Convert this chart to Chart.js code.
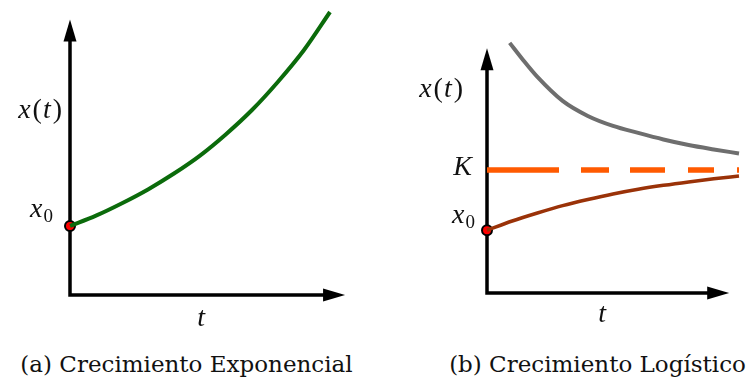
<!DOCTYPE html>
<html>
<head>
<meta charset="utf-8">
<script src="https://cdn.jsdelivr.net/npm/chart.js@4/dist/chart.umd.min.js"></script>
<style>
    body { margin: 0; background: #fff; }
    #wrap { position: relative; width: 746px; height: 380px; overflow: hidden; }
    canvas { position: absolute; top: 0; }
    .caption {
        position: absolute;
        top: 350px;
        width: 373px;
        text-align: center;
        font-family: "DejaVu Serif", serif;
        font-size: 23px;
        line-height: 28px;
        color: #111;
        white-space: nowrap;
    }
</style>
</head>
<body>
<div id="wrap">
    <canvas id="expChart" width="373" height="340" style="left:0"></canvas>
    <canvas id="logChart" width="373" height="340" style="left:373px"></canvas>
    <div class="caption" style="left:0">(a) Crecimiento Exponencial</div>
    <div class="caption" style="left:411px">(b) Crecimiento Logístico</div>
</div>

<script>
// exponential panel (x in units of x0)
const tExp = [0, 1, 2, 3, 4, 5, 6, 7, 8, 9, 10];
const xExp = [1.00, 1.15, 1.33, 1.53, 1.76, 2.02, 2.33, 2.68, 3.09, 3.55, 4.10];
const x0Exp = 1.00;

// logistic panel (x in units of K)
const tLog = [0, 1, 2, 3, 4, 5, 6, 7, 8, 9, 10];
const xLogBelow = [0.51, 0.585, 0.65, 0.71, 0.76, 0.805, 0.843, 0.875, 0.903, 0.928, 0.95];
const tLogAbove = [0.9, 1.4, 2, 3, 4, 5, 6, 7, 8, 9, 10];
const xLogAbove = [2.033, 1.902, 1.756, 1.561, 1.439, 1.358, 1.301, 1.248, 1.203, 1.167, 1.134];
const capacityK = 1;
const x0Log = 0.51;
const kLineT = [0, 10];

const SERIF = '"Liberation Serif", "DejaVu Serif", serif';

function toPoints(xs, ys) {
    return xs.map((v, i) => ({ x: v, y: ys[i] }));
}

// draws pieces of math text, right aligned at xRight
function drawMath(ctx, parts, xRight, baseline) {
    let total = 0;
    parts.forEach(p => { ctx.font = p.font; total += ctx.measureText(p.text).width + (p.gap || 0); });
    let cx = xRight - total;
    parts.forEach(p => {
        ctx.font = p.font;
        ctx.fillText(p.text, cx, baseline + (p.dy || 0));
        cx += ctx.measureText(p.text).width + (p.gap || 0);
    });
}

const ITAL = "italic 28px " + SERIF;
const UP = "28px " + SERIF;
const SUB = "19px " + SERIF;

function axesPlugin(cfg) {
    return {
        id: "axes",
        beforeDatasetsDraw(chart) {
            const { ctx, scales: { x, y } } = chart;
            const ox = x.getPixelForValue(0);
            const oy = y.getPixelForValue(0);
            const tipX = x.getPixelForValue(cfg.xEnd);
            const tipY = y.getPixelForValue(cfg.yEnd);

            ctx.save();
            ctx.strokeStyle = "#000";
            ctx.fillStyle = "#000";
            ctx.lineWidth = 3.5;
            ctx.beginPath();
            ctx.moveTo(ox, tipY + 10);
            ctx.lineTo(ox, oy);
            ctx.lineTo(tipX - 10, oy);
            ctx.stroke();

            // arrow heads
            ctx.beginPath();
            ctx.moveTo(ox, tipY);
            ctx.lineTo(ox - 6.5, tipY + 22);
            ctx.lineTo(ox + 6.5, tipY + 22);
            ctx.closePath();
            ctx.fill();
            ctx.beginPath();
            ctx.moveTo(tipX, oy);
            ctx.lineTo(tipX - 22, oy - 6.5);
            ctx.lineTo(tipX - 22, oy + 6.5);
            ctx.closePath();
            ctx.fill();
            ctx.restore();
        },
        afterDraw(chart) {
            const { ctx, scales: { x, y } } = chart;
            const ox = x.getPixelForValue(0);
            const oy = y.getPixelForValue(0);
            ctx.save();
            ctx.fillStyle = "#111";
            ctx.textBaseline = "alphabetic";

            drawMath(ctx, [
                { text: "x", font: ITAL, gap: 2 },
                { text: "(", font: UP, gap: 1 },
                { text: "t", font: ITAL, gap: 2 },
                { text: ")", font: UP }
            ], ox - cfg.xtRight, y.getPixelForValue(cfg.xtAt));

            drawMath(ctx, [
                { text: "x", font: ITAL, gap: 1 },
                { text: "0", font: SUB, dy: 5 }
            ], ox - cfg.x0Right, y.getPixelForValue(cfg.x0) - cfg.x0Lift);

            if (cfg.k !== undefined) {
                drawMath(ctx, [{ text: "K", font: ITAL }], ox - 15, y.getPixelForValue(cfg.k) + 5);
            }

            ctx.font = ITAL;
            ctx.textAlign = "center";
            ctx.fillText("t", x.getPixelForValue(cfg.tAt), oy + cfg.tDrop);
            ctx.restore();
        }
    };
}

function baseOptions(pad, xMax, yMax) {
    return {
        responsive: false,
        animation: false,
        devicePixelRatio: 1,
        layout: { padding: pad },
        plugins: { legend: { display: false }, tooltip: { enabled: false } },
        scales: {
            x: { type: "linear", min: 0, max: xMax, display: false },
            y: { type: "linear", min: 0, max: yMax, display: false }
        }
    };
}

const dot = (t, v) => ({
    type: "scatter",
    data: [{ x: t, y: v }],
    pointRadius: 5,
    pointBackgroundColor: "#ff0000",
    pointBorderColor: "#000",
    pointBorderWidth: 2,
    clip: false
});

new Chart(document.getElementById("expChart"), {
    type: "line",
    data: {
        datasets: [
            {
                data: toPoints(tExp, xExp),
                borderColor: "#0b6b0b",
                borderWidth: 4,
                pointRadius: 0,
                cubicInterpolationMode: "monotone",
                borderCapStyle: "butt",
                clip: false
            },
            dot(0, x0Exp)
        ]
    },
    options: baseOptions({ left: 70, right: 43, top: 12, bottom: 45 }, 10, 4.10),
    plugins: [axesPlugin({
        xEnd: 10.58, yEnd: 3.99,
        xtRight: 8, xtAt: 2.57,
        x0: x0Exp, x0Right: 17, x0Lift: 9,
        tAt: 5.04, tDrop: 31
    })]
});

new Chart(document.getElementById("logChart"), {
    type: "line",
    data: {
        datasets: [
            {
                data: toPoints(tLogAbove, xLogAbove),
                borderColor: "#6e6e6e",
                borderWidth: 4,
                pointRadius: 0,
                cubicInterpolationMode: "monotone",
                clip: false
            },
            {
                data: toPoints(kLineT, [capacityK, capacityK]),
                borderColor: "#ff5a00",
                borderWidth: 5.5,
                borderDash: [72, 22, 28, 21, 35, 23, 26, 23],
                pointRadius: 0,
                clip: false
            },
            {
                data: toPoints(tLog, xLogBelow),
                borderColor: "#9a3208",
                borderWidth: 3.5,
                pointRadius: 0,
                cubicInterpolationMode: "monotone",
                clip: false
            },
            dot(0, x0Log)
        ]
    },
    options: baseOptions({ left: 114, right: 3, top: 42, bottom: 47 }, 10, 2.04),
    plugins: [axesPlugin({
        xEnd: 9.61, yEnd: 1.99,
        xtRight: 24, xtAt: 1.59,
        x0: x0Log, x0Right: 12, x0Lift: 7,
        k: capacityK,
        tAt: 4.57, tDrop: 29
    })]
});
</script>
</body>
</html>
